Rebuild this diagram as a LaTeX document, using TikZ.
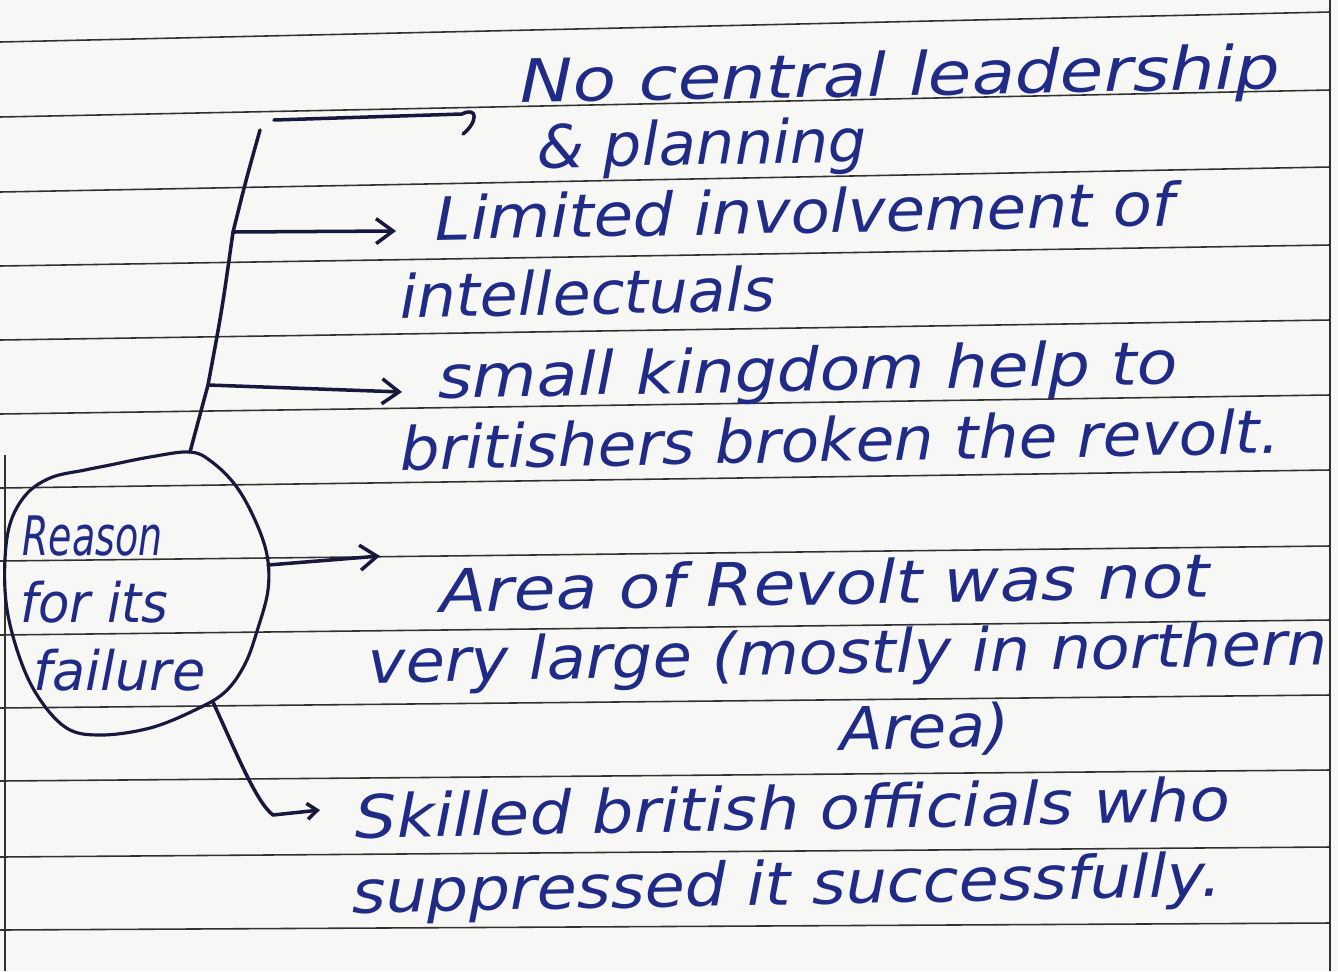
\documentclass[tikz,border=0pt]{standalone}
\usepackage{fontspec}
\usepackage{graphicx}
\setmainfont{DejaVu Sans}
\usetikzlibrary{arrows.meta}
\definecolor{ink}{RGB}{32,42,135}
\definecolor{pen}{RGB}{24,24,62}
\definecolor{rulecol}{RGB}{50,50,50}
\definecolor{paper}{RGB}{247,247,245}
\newlength\px \setlength\px{0.02cm}
\newcommand\hw[2]{\resizebox{#1\px}{\height}{#2}}
\tikzset{
  handtext/.style={font=\fontsize{34}{40}\selectfont\itshape, text=ink, anchor=base west, inner sep=0pt, rotate=1.1},
  hubtext/.style={font=\fontsize{31}{36}\selectfont\itshape, text=ink, anchor=base west, inner sep=0pt},
  ruling/.style={draw=rulecol, line width=0.9pt},
  connector/.style={draw=pen, line width=2pt, line cap=round, line join=round},
  barb/.style={-{Straight Barb[length=0.34cm, width=0.5cm, line width=2pt]}},
  smallbarb/.style={-{Straight Barb[length=0.2cm, width=0.32cm, line width=2pt]}},
}
\begin{document}
\begin{tikzpicture}[x=0.02cm, y=-0.02cm]
\useasboundingbox[fill=paper] (0,0) rectangle (1338,971);
% notebook rulings
\foreach \a/\b in {42/12, 117/90, 192/167, 266/245, 340/320, 414/395, 488/470, 561/546, 635/620, 708/695, 781/770, 857/847, 930/923}
  \draw[ruling] (0,\a) -- (1330,\b);
\draw[ruling] (1330,0) -- (1330,971);
\draw[ruling] (5,455) -- (5,971);

% hub blob
\draw[draw=pen, line width=1.8pt, line join=round] plot[smooth cycle, tension=0.6] coordinates {
  (190,452) (150,457) (110,465) (85,470) (50,478) (24,497) (8,532) (5,590) (14,640) (34,690)
  (65,727) (100,735) (150,728) (195,710) (225,692) (245,664) (258,628) (268,590) (267,555)
  (255,520) (236,486) (212,462)};
\node[hubtext] (r1) at (22,555) {\hw{140}{Reason}};
\node[hubtext] (r2) at (20,622) {\hw{148}{for its}};
\node[hubtext] (r3) at (33,690) {\hw{172}{failure}};

% hub anchor points
\coordinate (hubN) at (190,452);
\coordinate (hubE) at (268,565);
\coordinate (hubSE) at (213,702);
\coordinate (jK) at (208,385);
\coordinate (jL) at (233,232);
\coordinate (jTop) at (260,130);
\coordinate (topStart) at (274,120);
\coordinate (topEnd) at (462,114);
\coordinate (endL) at (396,231);
\coordinate (endK) at (402,392);
\coordinate (endA) at (380,556);
\coordinate (bendS) at (273,815);
\coordinate (endS) at (320,810);

% texts
\node[handtext] (t1a) at (520,103) {\hw{760}{No central leadership}};
\node[handtext] (t1b) at (537,168) {\hw{330}{\& planning}};
\node[handtext] (t2a) at (435,240) {\hw{740}{Limited involvement of}};
\node[handtext] (t2b) at (400,318) {\hw{375}{intellectuals}};
\node[handtext] (t3a) at (438,398) {\hw{740}{small kingdom help to}};
\node[handtext] (t3b) at (400,470) {\hw{880}{britishers broken the revolt.}};
\node[handtext] (t4a) at (440,612) {\hw{770}{Area of Revolt was not}};
\node[handtext] (t4b) at (368,683) {\hw{960}{very large (mostly in northern}};
\node[handtext] (t4c) at (840,750) {\hw{170}{Area)}};
\node[handtext] (t5a) at (355,838) {\hw{875}{Skilled british officials who}};
\node[handtext] (t5b) at (352,913) {\hw{870}{suppressed it successfully.}};

% connectors
\draw[connector] (hubN) -- (jK) .. controls (222,310) .. (jL) .. controls (246,180) .. (jTop);
\draw[connector] (topStart) -- (topEnd) .. controls (478,106) and (478,122) .. (463,134);
\draw[connector, barb] (jL) -- (endL);
\draw[connector, barb] (jK) -- (endK);
\draw[connector, barb] (hubE) -- (endA);
\draw[connector, smallbarb] (hubSE) .. controls (236,752) and (256,802) .. (bendS) -- (endS);
\end{tikzpicture}
\end{document}
